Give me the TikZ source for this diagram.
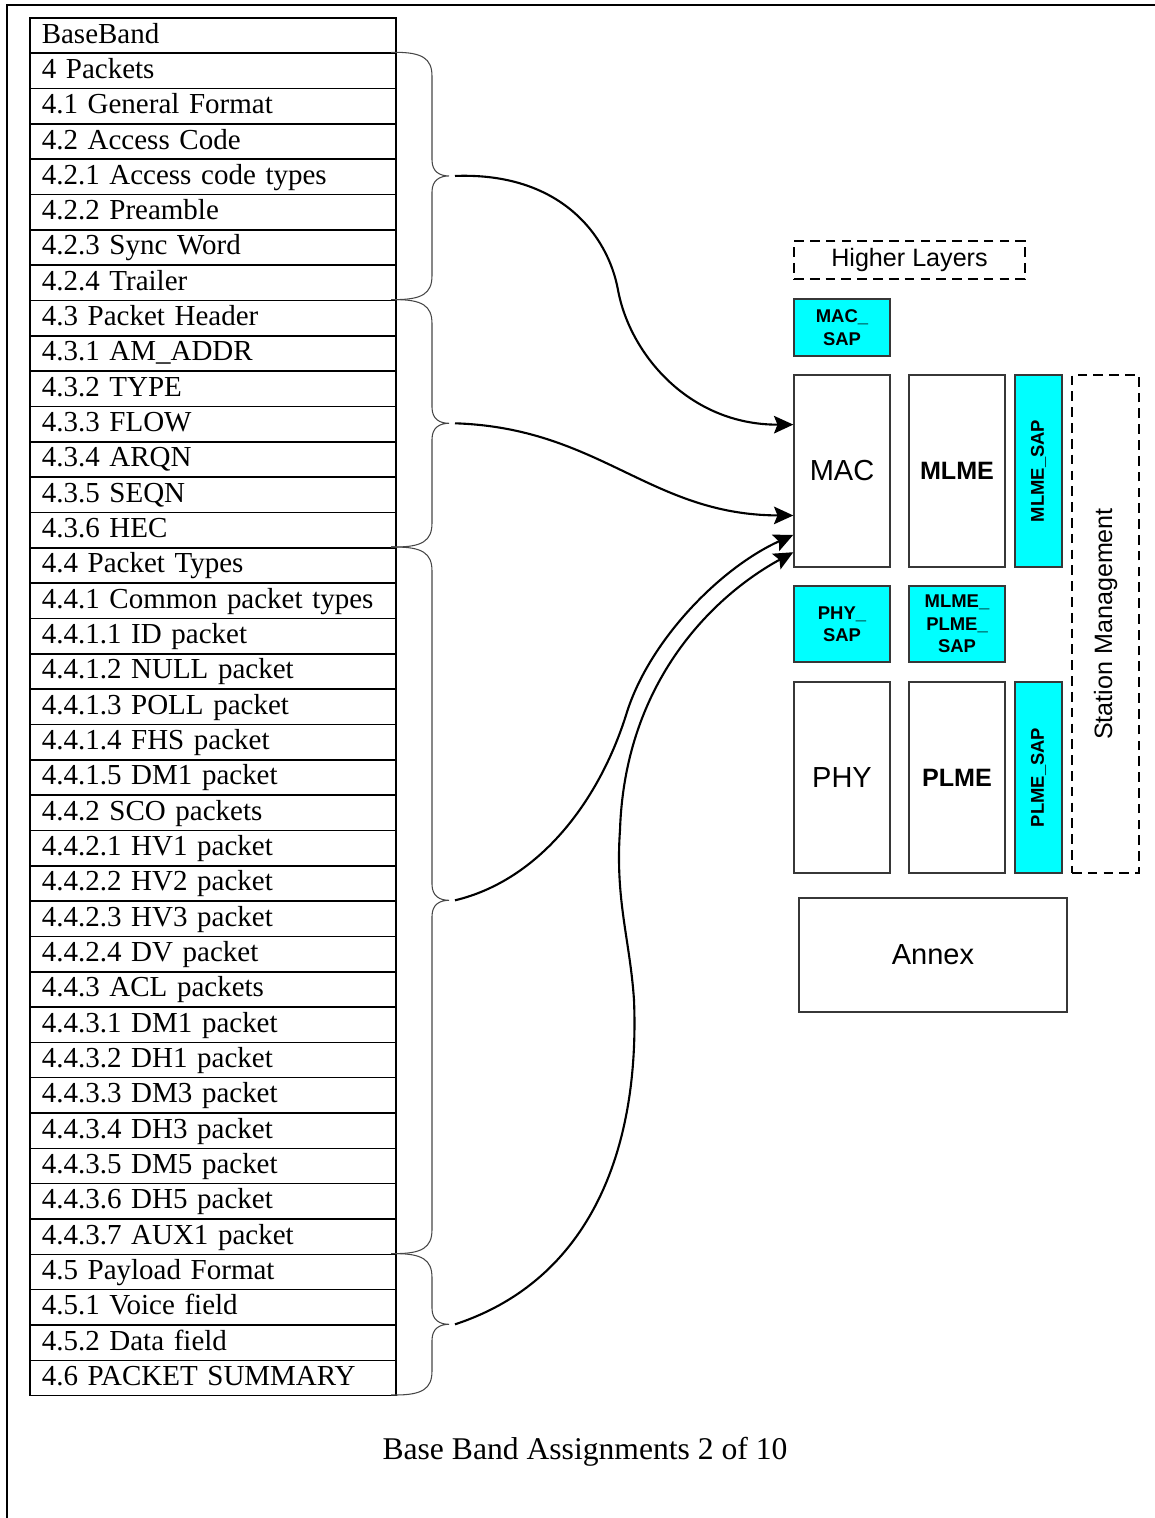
\documentclass[tikz,border=0pt]{standalone}
\usepackage{fontspec}
\setmainfont{Liberation Serif}
\setsansfont{Liberation Sans}
\usetikzlibrary{calc,arrows.meta}
\definecolor{sapcyan}{RGB}{0,255,255}
\definecolor{boxedge}{RGB}{55,55,55}
\definecolor{braceline}{RGB}{70,70,70}

\tikzset{
  tocrow/.style={draw=black,line width=0.9pt,anchor=north west,
    minimum width=7.32cm,minimum height=0.7067cm,text width=6.84cm,
    inner xsep=0.24cm,inner ysep=0pt,align=left,
    text height=0.9em,text depth=0.04em,
    font=\fontsize{16.5}{19}\selectfont},
  layerbox/.style={draw=boxedge,line width=0.8pt,
    font=\sffamily\fontsize{16.5}{19}\selectfont},
  mgmtbox/.style={layerbox,font=\sffamily\bfseries\fontsize{14.3}{17}\selectfont},
  sapbox/.style={draw=boxedge,fill=sapcyan,line width=0.8pt,align=center,
    inner sep=0pt,font=\sffamily\bfseries\fontsize{10.5}{12.8}\selectfont},
  dashbox/.style={draw=black,line width=0.8pt,dash pattern=on 5.5pt off 3.5pt},
  bracel/.style={draw=braceline,line width=0.6pt},
  link/.style={-{Stealth[length=11pt,width=10pt,inset=2pt]},line width=1.2pt},
}

\begin{document}
\begin{tikzpicture}[x=0.02cm,y=-0.02cm]
  \useasboundingbox (0,0) rectangle (1155,1518);

  % ── OUTER FRAME ────────────────────────────────────────────────────────────
  \draw[line width=0.9pt] (7,1518) -- (7,5) -- (1155,5);

  % ── CONTENTS TABLE ─────────────────────────────────────────────────────────
  \foreach \lbl [count=\i] in {BaseBand, 4 Packets, 4.1 General Format,
      4.2 Access Code, 4.2.1 Access code types, 4.2.2 Preamble,
      4.2.3 Sync Word, 4.2.4 Trailer, 4.3 Packet Header, 4.3.1 AM\_ADDR,
      4.3.2 TYPE, 4.3.3 FLOW, 4.3.4 ARQN, 4.3.5 SEQN, 4.3.6 HEC,
      4.4 Packet Types, 4.4.1 Common packet types, 4.4.1.1 ID packet,
      4.4.1.2 NULL packet, 4.4.1.3 POLL packet, 4.4.1.4 FHS packet,
      4.4.1.5 DM1 packet, 4.4.2 SCO packets, 4.4.2.1 HV1 packet,
      4.4.2.2 HV2 packet, 4.4.2.3 HV3 packet, 4.4.2.4 DV packet,
      4.4.3 ACL packets, 4.4.3.1 DM1 packet, 4.4.3.2 DH1 packet,
      4.4.3.3 DM3 packet, 4.4.3.4 DH3 packet, 4.4.3.5 DM5 packet,
      4.4.3.6 DH5 packet, 4.4.3.7 AUX1 packet, 4.5 Payload Format,
      4.5.1 Voice field, 4.5.2 Data field, 4.6 PACKET SUMMARY}{
    \node[tocrow] (r\i) at (29,{17+35.33*(\i-1)}) {\lbl};
  }

  % ── BRACES (one per group of rows) ─────────────────────────────────────────
  \foreach \ya/\yb [count=\k] in {52.3/299.6, 299.6/547, 547/1253.6, 1253.6/1395}{
    \pgfmathsetmacro{\ym}{(\ya+\yb)/2}
    \draw[bracel] (391,\ya) -- (395,\ya)
      .. controls (422,\ya) and (432,\ya+6) .. (432,\ya+24)
      -- (432,\ym-16) .. controls (432,\ym-4) and (440,\ym) .. (449,\ym)
      .. controls (440,\ym) and (432,\ym+4) .. (432,\ym+16)
      -- (432,\yb-24) .. controls (432,\yb-6) and (422,\yb) .. (395,\yb) -- (391,\yb);
    \coordinate (g\k) at (455,\ym);
  }

  % ── LAYER STACK ────────────────────────────────────────────────────────────
  \node[dashbox,minimum width=4.62cm,minimum height=0.76cm,
        font=\sffamily\fontsize{14.3}{17}\selectfont] (hl) at (909.5,260) {Higher Layers};

  \node[sapbox,minimum width=1.92cm,minimum height=1.14cm] (macsap) at (842,327.5) {MAC\_\\SAP};

  \node[layerbox,minimum width=1.92cm,minimum height=3.84cm] (mac) at (842,471) {MAC};
  \node[mgmtbox,minimum width=1.92cm,minimum height=3.84cm] (mlme) at (957,471) {MLME};
  \node[sapbox,minimum width=0.94cm,minimum height=3.84cm] (mlmesap) at (1038.5,471) {};
  \node[rotate=90,font=\sffamily\bfseries\fontsize{10.5}{12.8}\selectfont] at (mlmesap) {MLME\_SAP};

  \node[sapbox,minimum width=1.92cm,minimum height=1.52cm] (physap) at (842,624) {PHY\_\\SAP};
  \node[sapbox,minimum width=1.92cm,minimum height=1.52cm] (plmesap2) at (957,624) {MLME\_\\PLME\_\\SAP};

  \node[layerbox,minimum width=1.92cm,minimum height=3.82cm] (phy) at (842,777.5) {PHY};
  \node[mgmtbox,minimum width=1.92cm,minimum height=3.82cm] (plme) at (957,777.5) {PLME};
  \node[sapbox,minimum width=0.94cm,minimum height=3.82cm] (plmesap) at (1038.5,777.5) {};
  \node[rotate=90,font=\sffamily\bfseries\fontsize{10.5}{12.8}\selectfont] at (plmesap) {PLME\_SAP};

  % station management (dashed, rotated label)
  \node[dashbox,minimum width=1.34cm,minimum height=9.96cm] (stm) at (1105.5,624) {};
  \node[rotate=90,font=\sffamily\fontsize{14.3}{17}\selectfont] at (stm) {Station Management};

  \node[layerbox,minimum width=5.36cm,minimum height=2.28cm] (annex) at (933,955) {Annex};

  % ── ARROWS FROM GROUPS TO MAC ──────────────────────────────────────────────
  \draw[link] (g1) .. controls (560,172) and (608,235) .. (618,290)
    .. controls (630,355) and (690,425)
    .. ($(mac.north west)!0.26!(mac.south west)$);
  \draw[link] (g2) .. controls (600,428) and (650,515)
    .. ($(mac.north west)!0.73!(mac.south west)$);
  \draw[link] (g3) .. controls (540,880) and (600,800) .. (627,712)
    .. controls (650,640) and (720,568)
    .. ($(mac.north west)!0.83!(mac.south west)$);
  \draw[link] (g4) .. controls (590,1280) and (640,1150) .. (634,1000)
    .. controls (630,940) and (615,900) .. (620,830)
    .. controls (625,680) and (715,595)
    .. ($(mac.north west)!0.92!(mac.south west)$);

  % ── CAPTION ────────────────────────────────────────────────────────────────
  \node[font=\fontsize{18}{21}\selectfont] (cap) at (585,1452) {Base Band Assignments 2 of 10};

\end{tikzpicture}
\end{document}
